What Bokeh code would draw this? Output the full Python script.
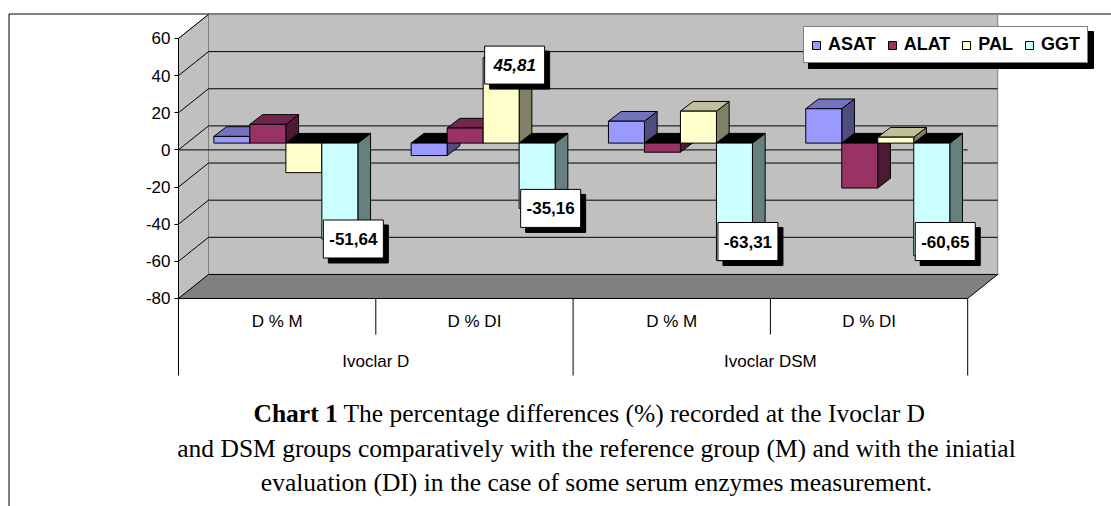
from bokeh.plotting import figure
from bokeh.models import (Range1d, LinearAxis, FixedTicker, Legend, LegendItem,
                          ColumnDataSource)
from bokeh.core.properties import value
from bokeh.embed import file_html
from bokeh.resources import INLINE

# ---------------- data ----------------
series = ["ASAT", "ALAT", "PAL", "GGT"]
groups = ["Ivoclar D", "Ivoclar DSM"]
subcats = ["D % M", "D % DI", "D % M", "D % DI"]
cat_group = [0, 0, 1, 1]
asat = [3.6, -6.7, 11.8, 18.5]
alat = [10.1, 8.1, -4.9, -24.2]
pal = [-15.9, 45.81, 17.2, 3.2]
ggt = [-51.64, -35.16, -63.31, -60.65]
values = [asat, alat, pal, ggt]
y_ticks = [-80, -60, -40, -20, 0, 20, 40, 60]
labelled = [(3, 0), (2, 1), (3, 1), (3, 2), (3, 3)]   # (series, category) with value labels

caption1_bold = "Chart 1"
caption1 = "The percentage differences (%) recorded at the Ivoclar D"
caption2 = "and DSM groups comparatively with the reference group (M) and with the iniatial"
caption3 = "evaluation (DI) in the case of some serum enzymes measurement."

# ---------------- styles ----------------
front_col = ["#9999FF", "#993366", "#FFFFCC", "#CCFFFF"]
top_col = ["#7373BF", "#73264D", "#BFBF99", "#99BFBF"]
side_col = ["#4D4D80", "#4D1A33", "#808066", "#668080"]

W, H = 1111, 506
PX = 197.3                 # px per category
PY = 1.857                 # px per value unit
X0, Y0 = 178, 149.4        # canvas px of value axis / zero


def X(px):
    return (px - X0) / PX


def Y(py):
    return (Y0 - py) / PY


n = len(subcats)
ymin, ymax = min(y_ticks), max(y_ticks)
bw = 36 / PX
wdx, wdy = 30 / PX, 24 / PY        # wall depth
fdx, fdy = 8.7 / PX, 6.8 / PY      # bar front offset
bdx, bdy = 12.7 / PX, 9.7 / PY     # bar depth

p = figure(width=W, height=H, x_range=Range1d(X(0), X(W)), y_range=Range1d(Y(H), Y(0)),
           x_axis_type=None, y_axis_type=None, toolbar_location=None, output_backend="svg",
           min_border_left=0, min_border_right=0, min_border_top=0, min_border_bottom=0)
p.outline_line_color = None
p.background_fill_color = "white"
p.border_fill_color = "white"

# outer frame (top and left lines)
p.segment(x0=[X(8.5), X(8.5)], y0=[Y(13.5), Y(13.5)], x1=[X(W), X(8.5)], y1=[Y(13.5), Y(H)],
          line_color="black", line_width=1)

# walls and floor
p.patch([0, wdx, wdx, 0], [ymax, ymax + wdy, ymin + wdy, ymin],
        fill_color="#C0C0C0", line_color="#808080")
p.patch([wdx, n + wdx, n + wdx, wdx], [ymin + wdy, ymin + wdy, ymax + wdy, ymax + wdy],
        fill_color="#C0C0C0", line_color="#808080")
p.patch([0, n, n + wdx, wdx], [ymin, ymin, ymin + wdy, ymin + wdy],
        fill_color="#808080", line_color="black")

grid_t = [t for t in y_ticks if ymin < t < ymax]
p.segment(x0=[wdx] * len(grid_t), y0=[t + wdy for t in grid_t],
          x1=[n + wdx] * len(grid_t), y1=[t + wdy for t in grid_t], line_color="black")
side_t = [t for t in y_ticks if t > ymin]
p.segment(x0=[0] * len(side_t), y0=side_t, x1=[wdx] * len(side_t),
          y1=[t + wdy for t in side_t], line_color="black")
p.segment(x0=[0], y0=[0], x1=[n], y1=[0], line_color="black")

# bars (painter's order: side, top, front)
xs, ys, fills = [], [], []
front_idx = {}
for i in range(n):
    for j, vals in enumerate(values):
        v = vals[i]
        L = i + 0.5 - len(series) / 2 * bw + j * bw + fdx
        R = L + bw
        ty = max(v, 0) + fdy
        by = min(v, 0) + fdy
        xs.append([R, R, R + bdx, R + bdx]); ys.append([by, ty, ty + bdy, by + bdy])
        fills.append(side_col[j])
        xs.append([L, R, R + bdx, L + bdx]); ys.append([ty, ty, ty + bdy, ty + bdy])
        fills.append(top_col[j] if v >= 0 else "black")
        xs.append([L, R, R, L]); ys.append([by, by, ty, ty])
        fills.append(front_col[j])
        if i == 0:
            front_idx[j] = len(xs) - 1
faces = p.patches(xs=xs, ys=ys, fill_color=fills, line_color="black", line_width=1)

# value labels
lx, ly, lt, ls = [], [], [], []
for (j, i) in labelled:
    v = values[j][i]
    L = i + 0.5 - len(series) / 2 * bw + j * bw + fdx
    lx.append(L + bw / 2 + 13.5 / PX)
    ly.append(min(max(v, -53), 42) + fdy)
    lt.append(f"{v:.2f}".replace(".", ","))
    ls.append("bold italic" if v > 0 else "bold")
p.rect(x=[x + 5 / PX for x in lx], y=[y - 5 / PY for y in ly], width=60, height=38,
       width_units="screen", height_units="screen", fill_color="black", line_color="black")
p.rect(x=lx, y=ly, width=60, height=38, width_units="screen", height_units="screen",
       fill_color="white", line_color="black")
lsrc = ColumnDataSource(dict(x=lx, y=ly, text=lt, style=ls))
p.text(x="x", y="y", text="text", source=lsrc, text_font=value("Liberation Sans"),
       text_font_size=value("17px"), text_font_style="style", text_color="black",
       text_align="center", text_baseline="middle")

# category axis (two levels)
p.text(x=[i + 0.5 for i in range(n)], y=[Y(321)] * n, text=subcats,
       text_font=value("Liberation Sans"), text_font_size=value("17px"),
       text_align="center", text_baseline="middle", text_color="black")
gx = []
for g in range(len(groups)):
    members = [i for i in range(n) if cat_group[i] == g]
    gx.append((min(members) + max(members) + 1) / 2)
p.text(x=gx, y=[Y(361)] * len(groups), text=groups,
       text_font=value("Liberation Sans"), text_font_size=value("17px"),
       text_align="center", text_baseline="middle", text_color="black")
sep_x, sep_y1 = [], []
for i in range(n + 1):
    long_sep = i == 0 or i == n or cat_group[i] != cat_group[i - 1]
    sep_x.append(i)
    sep_y1.append(Y(375) if long_sep else Y(334))
p.segment(x0=sep_x, y0=[ymin] * len(sep_x), x1=sep_x, y1=sep_y1, line_color="black")

# value axis (fixed at the front-left edge of the 3D box)
yaxis = LinearAxis(ticker=FixedTicker(ticks=y_ticks), bounds=(ymin, ymax), fixed_location=0)
yaxis.major_label_overrides = {t: str(t) for t in y_ticks}
yaxis.axis_line_color = "black"
yaxis.major_tick_line_color = "black"
yaxis.major_tick_out = 4
yaxis.major_tick_in = 0
yaxis.minor_tick_out = 0
yaxis.minor_tick_in = 0
yaxis.major_label_standoff = 4
yaxis.major_label_text_font = "Liberation Sans"
yaxis.major_label_text_font_size = "17px"
yaxis.major_label_text_color = "black"
p.add_layout(yaxis, "left")

# legend with shadow
p.quad(left=[X(808)], right=[X(1093)], top=[Y(31)], bottom=[Y(68)],
       fill_color="black", line_color="black")
legend = Legend(items=[LegendItem(label=s, renderers=[faces], index=front_idx[j])
                       for j, s in enumerate(series)],
                orientation="horizontal", location=(803, H - 63),
                padding=7, spacing=11, label_standoff=7, glyph_width=10, glyph_height=10,
                margin=0, border_line_color="black", border_line_width=1,
                background_fill_color="white", background_fill_alpha=1,
                label_text_font="Liberation Sans", label_text_font_style="bold",
                label_text_font_size="18px", label_text_color="black")
p.add_layout(legend)

# caption
cap = dict(text_font=value("Liberation Serif"), text_font_size=value("25.5px"),
           text_color="black", text_baseline="middle")
p.text(x=[X(253)], y=[Y(413)], text=[caption1_bold], text_font_style="bold",
       text_align="left", **cap)
p.text(x=[X(343)], y=[Y(413)], text=[caption1], text_align="left", **cap)
p.text(x=[X(596), X(596)], y=[Y(448), Y(482)], text=[caption2, caption3],
       text_align="center", **cap)

open("out.html", "w").write(file_html(p, INLINE))
